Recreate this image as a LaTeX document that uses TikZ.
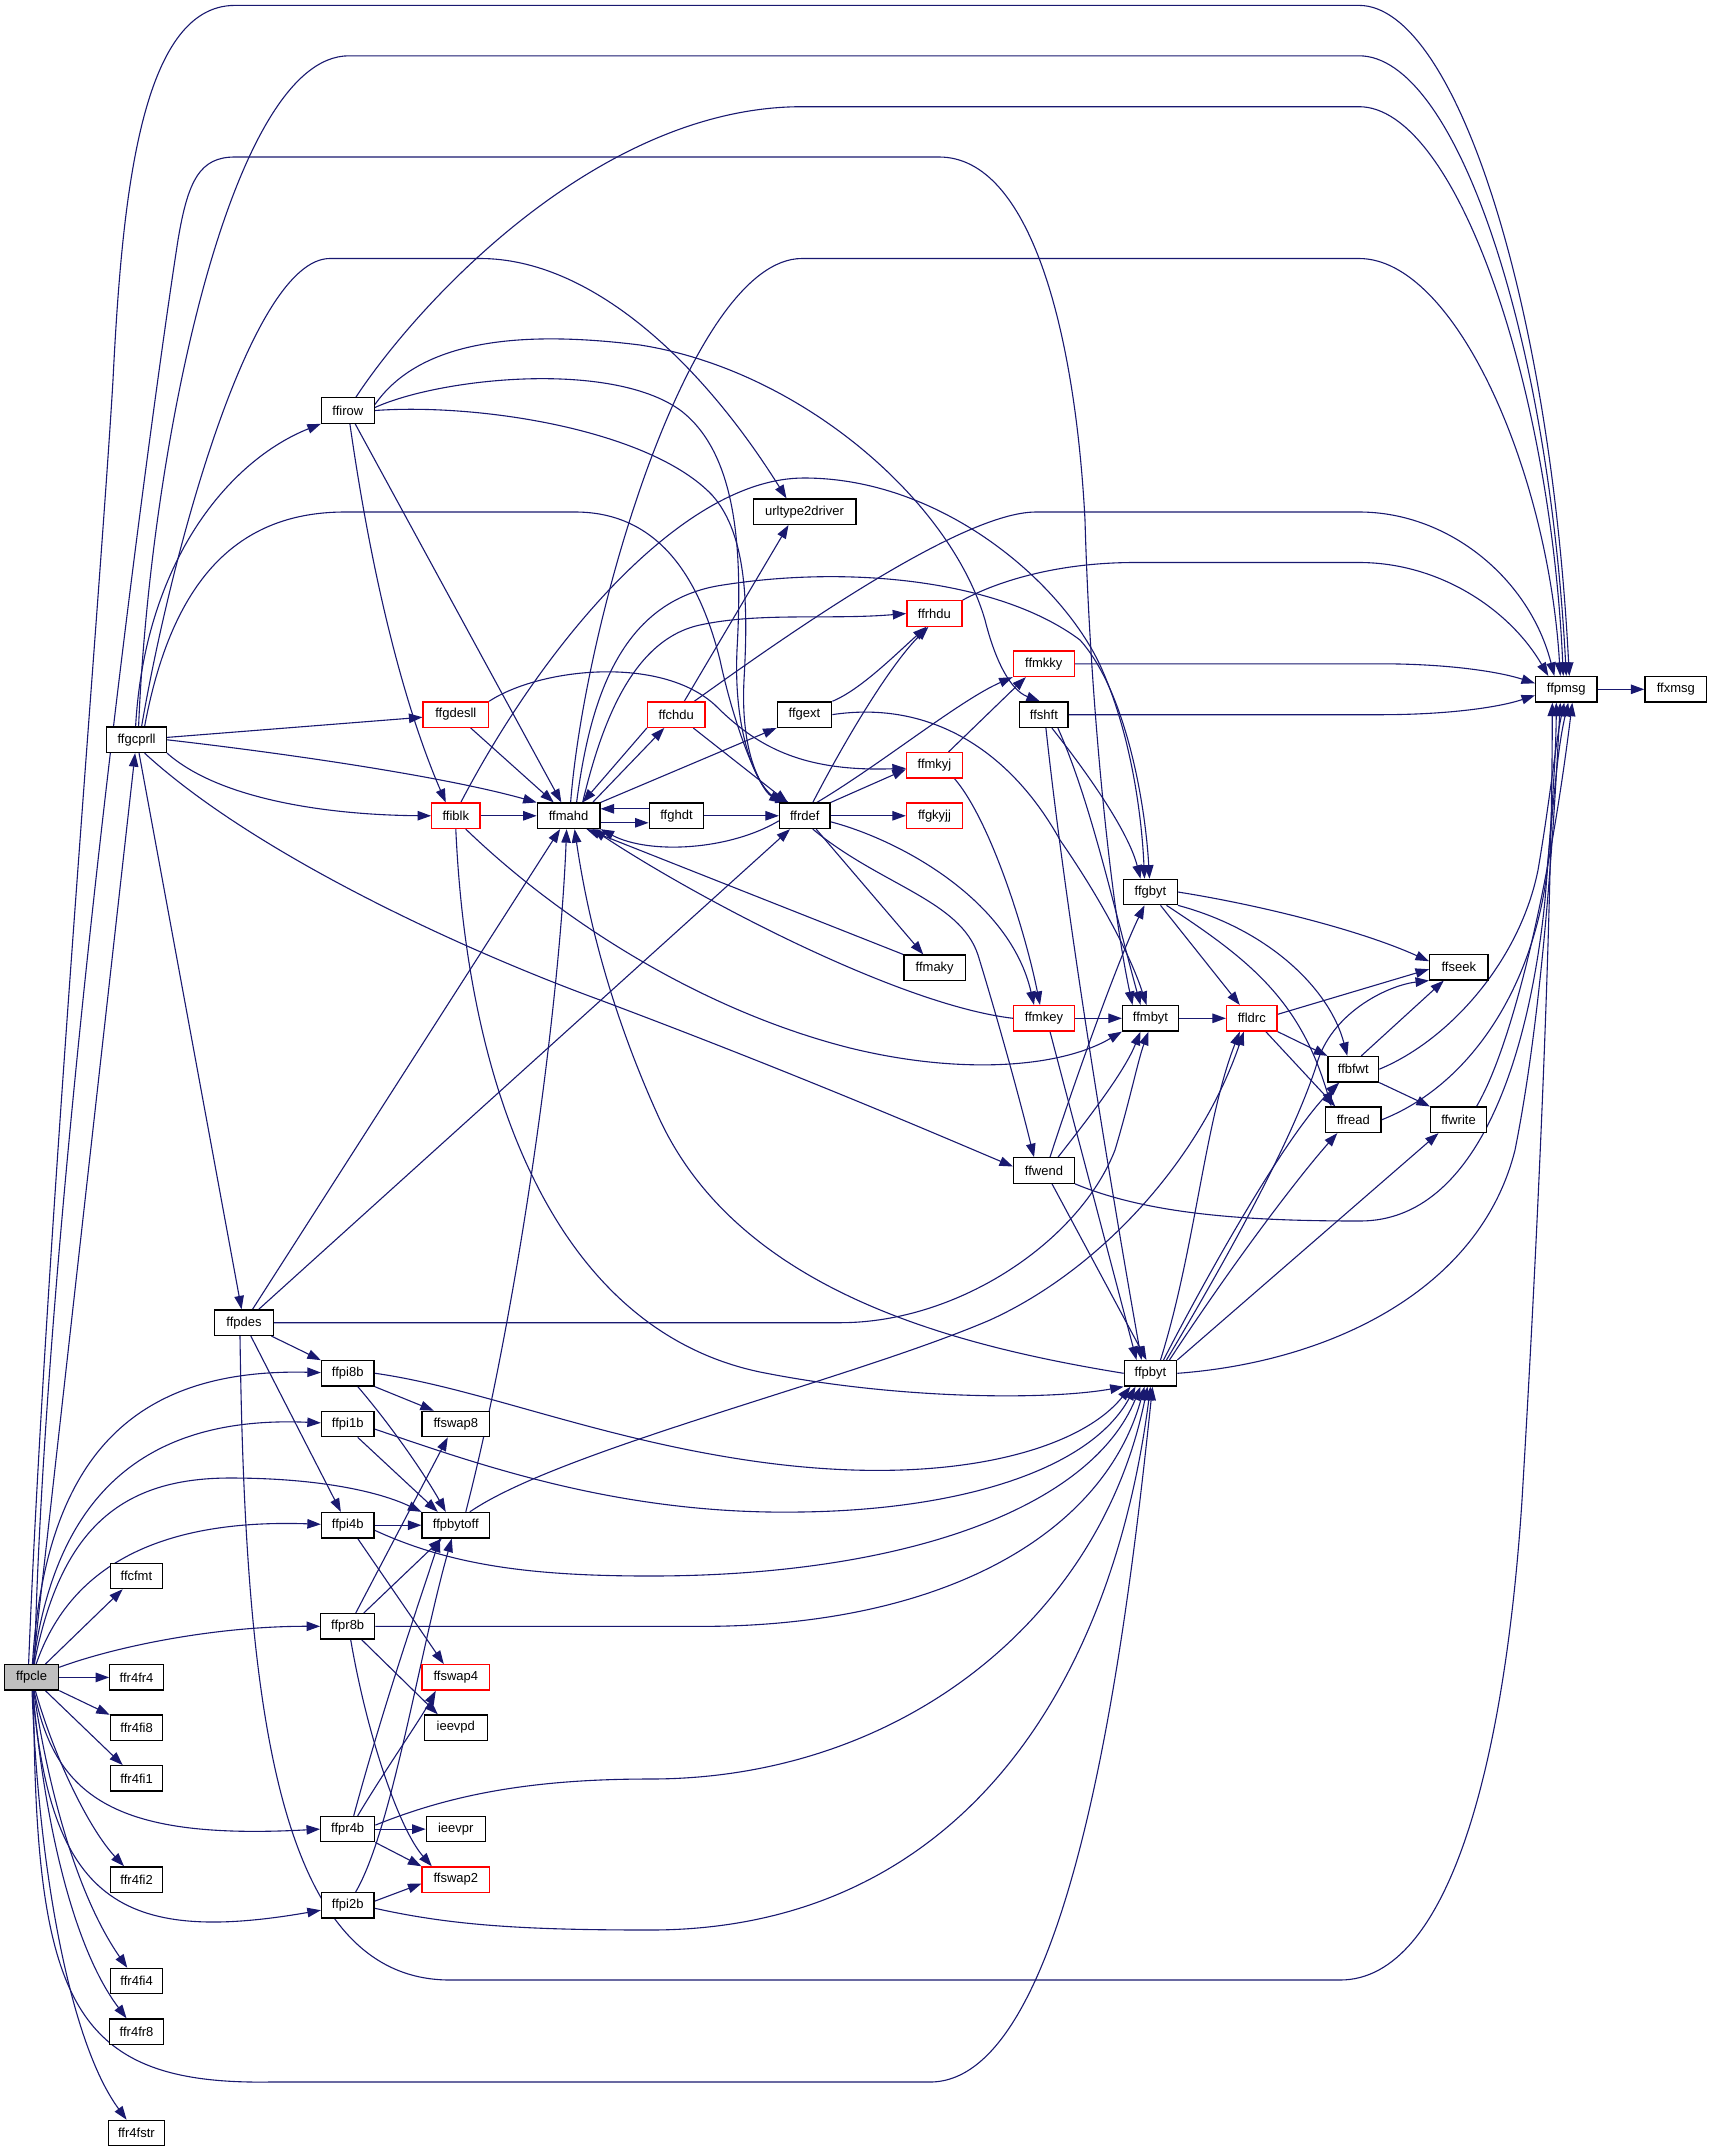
\documentclass[tikz,border=0pt]{standalone}
\usepackage{fontspec}
\setmainfont{Liberation Sans}[Ligatures=NoCommon]
\usetikzlibrary{arrows.meta}
\pgfdeclarelayer{backdrop}
\pgfdeclarelayer{bg}
\pgfsetlayers{backdrop,bg,main}
\definecolor{edgeblue}{RGB}{25,25,112}
\definecolor{nodegray}{RGB}{191,191,191}
\begin{document}
\begin{tikzpicture}[x=1pt,y=-1pt,
  fn/.style={draw=black, line width=1.3pt, fill=white, minimum height=25.4pt, inner sep=0pt, font=\fontsize{13}{15}\selectfont},
  rfn/.style={fn, draw=red},
  cur/.style={fn, fill=nodegray},
  e/.style={draw=edgeblue, line width=1.1pt, -{Triangle[length=13.5pt,width=9.5pt]}}]
\begin{pgfonlayer}{backdrop}
\fill[white] (0,0) rectangle (1712,2152);
\end{pgfonlayer}
\path[use as bounding box] (0,0) rectangle (1712,2152);
% nodes
\node[cur, minimum width=54pt] (ffpcle) at (31.6,1677.4) {ffpcle};
\node[fn, minimum width=52.4pt] (ffcfmt) at (136.4,1575.9) {ffcfmt};
\node[fn, minimum width=53.6pt] (ffr4fr4) at (136.6,1677.4) {ffr4fr4};
\node[fn, minimum width=52.4pt] (ffr4fi8) at (136.6,1727.6) {ffr4fi8};
\node[fn, minimum width=52.4pt] (ffr4fi1) at (136.6,1778.4) {ffr4fi1};
\node[fn, minimum width=52.4pt] (ffr4fi2) at (136.6,1879.6) {ffr4fi2};
\node[fn, minimum width=52.4pt] (ffr4fi4) at (136.6,1981.1) {ffr4fi4};
\node[fn, minimum width=53.6pt] (ffr4fr8) at (136.6,2031.6) {ffr4fr8};
\node[fn, minimum width=56.3pt] (ffr4fstr) at (136.4,2133) {ffr4fstr};
\node[fn, minimum width=59.7pt] (ffgcprll) at (136.6,739.8) {ffgcprll};
\node[fn, minimum width=58.5pt] (ffpdes) at (244,1322.7) {ffpdes};
\node[fn, minimum width=52.8pt] (ffirow) at (347.9,410.5) {ffirow};
\node[fn, minimum width=52.4pt] (ffpi8b) at (347.7,1373.2) {ffpi8b};
\node[fn, minimum width=52.4pt] (ffpi1b) at (347.7,1424) {ffpi1b};
\node[fn, minimum width=52.4pt] (ffpi4b) at (347.7,1525.2) {ffpi4b};
\node[fn, minimum width=54pt] (ffpr8b) at (347.7,1626.4) {ffpr8b};
\node[fn, minimum width=54pt] (ffpr4b) at (347.7,1829.1) {ffpr4b};
\node[fn, minimum width=52.4pt] (ffpi2b) at (347.7,1905.2) {ffpi2b};
\node[rfn, minimum width=65.4pt] (ffgdesll) at (455.8,714.6) {ffgdesll};
\node[rfn, minimum width=48.2pt] (ffiblk) at (455.8,815.8) {ffiblk};
\node[fn, minimum width=67.4pt] (ffswap8) at (455.8,1424) {ffswap8};
\node[fn, minimum width=67.4pt] (ffpbytoff) at (455.8,1525.2) {ffpbytoff};
\node[rfn, minimum width=67.4pt] (ffswap4) at (455.8,1677.4) {ffswap4};
\node[fn, minimum width=62.8pt] (ieevpd) at (455.8,1727.6) {ieevpd};
\node[fn, minimum width=59pt] (ieevpr) at (455.8,1829.1) {ieevpr};
\node[rfn, minimum width=67.4pt] (ffswap2) at (455.8,1879.6) {ffswap2};
\node[fn, minimum width=62.6pt] (ffmahd) at (568.6,815.8) {ffmahd};
\node[rfn, minimum width=57.5pt] (ffchdu) at (676.3,714.6) {ffchdu};
\node[fn, minimum width=54.5pt] (ffghdt) at (676.5,815.8) {ffghdt};
\node[fn, minimum width=102.7pt] (urltype2driver) at (804.5,511.7) {urltype2driver};
\node[fn, minimum width=54.5pt] (ffgext) at (804.5,714.6) {ffgext};
\node[fn, minimum width=50.5pt] (ffrdef) at (804.8,815.8) {ffrdef};
\node[rfn, minimum width=55pt] (ffrhdu) at (934.4,613.5) {ffrhdu};
\node[rfn, minimum width=56pt] (ffmkyj) at (934.5,765.3) {ffmkyj};
\node[rfn, minimum width=56pt] (ffgkyjj) at (934.5,815.8) {ffgkyjj};
\node[fn, minimum width=61.6pt] (ffmaky) at (934.7,967.8) {ffmaky};
\node[rfn, minimum width=61pt] (ffmkky) at (1043.8,663.8) {ffmkky};
\node[fn, minimum width=48.2pt] (ffshft) at (1043.9,714.7) {ffshft};
\node[rfn, minimum width=60.7pt] (ffmkey) at (1044,1018.3) {ffmkey};
\node[fn, minimum width=60.7pt] (ffwend) at (1044,1170.5) {ffwend};
\node[fn, minimum width=53.6pt] (ffgbyt) at (1150.5,892) {ffgbyt};
\node[fn, minimum width=55.9pt] (ffmbyt) at (1150.5,1018.3) {ffmbyt};
\node[fn, minimum width=52.4pt] (ffpbyt) at (1150.5,1373.3) {ffpbyt};
\node[rfn, minimum width=50.5pt] (ffldrc) at (1251.8,1018.3) {ffldrc};
\node[fn, minimum width=50.6pt] (ffbfwt) at (1353.3,1069.2) {ffbfwt};
\node[fn, minimum width=55.4pt] (ffread) at (1353.3,1119.8) {ffread};
\node[fn, minimum width=58.3pt] (ffseek) at (1458.8,967.2) {ffseek};
\node[fn, minimum width=55.8pt] (ffwrite) at (1458.5,1119.8) {ffwrite};
\node[fn, minimum width=61.3pt] (ffpmsg) at (1566.3,689.3) {ffpmsg};
\node[fn, minimum width=61.7pt] (ffxmsg) at (1675.8,689.3) {ffxmsg};
\begin{pgfonlayer}{bg}
% ---- ffpcle
\draw[e] (ffpcle) -- (ffgcprll);
\draw[e] (ffpcle) -- (ffcfmt);
\draw[e] (ffpcle) -- (ffr4fr4);
\draw[e] (ffpcle) -- (ffr4fi8);
\draw[e] (ffpcle) -- (ffr4fi1);
\draw[e] (ffpcle) .. controls (55,1760) and (90,1830) .. (ffr4fi2);
\draw[e] (ffpcle) .. controls (50,1800) and (80,1900) .. (ffr4fi4);
\draw[e] (ffpcle) .. controls (45,1830) and (75,1950) .. (ffr4fr8);
\draw[e] (ffpcle) .. controls (38,1860) and (68,2040) .. (ffr4fstr);
\draw[e] (ffpcle) .. controls (45,1460) and (130,1368) .. (ffpi8b);
\draw[e] (ffpcle) .. controls (55,1500) and (140,1415) .. (ffpi1b);
\draw[e] (ffpcle) .. controls (60,1530) and (120,1478) .. (230,1478) .. controls (320,1478) and (380,1492) .. (ffpbytoff.north west);
\draw[e] (ffpcle) .. controls (65,1580) and (140,1518) .. (ffpi4b);
\draw[e] (ffpcle) .. controls (120,1645) and (220,1626) .. (ffpr8b);
\draw[e] (ffpcle) .. controls (55,1800) and (120,1840) .. (ffpr4b.west);
\draw[e] (ffpcle) .. controls (50,1900) and (120,1945) .. ([yshift=-5pt]ffpi2b.west);
\draw[e] ([xshift=2pt]ffpcle.south) .. controls (35,2000) and (70,2085) .. (270,2082) -- (930,2082) .. controls (1070,2082) and (1125,1650) .. ([xshift=2pt]ffpbyt.south);
\draw[e] ([xshift=-3pt]ffpcle.north) .. controls (45,1250) and (100,600) .. (113,380) .. controls (122,200) and (140,5.4) .. (235,5.4) -- (1359,5.4) .. controls (1455,5.4) and (1550,300) .. ([xshift=3pt]ffpmsg.north);
\draw[e] ([xshift=3pt]ffpcle.north) .. controls (45,1200) and (150,420) .. (178,240) .. controls (188,180) and (200,157) .. (235,157) -- (939,157) .. controls (1030,157) and (1075,330) .. (1085,520) .. controls (1090,700) and (1110,900) .. ([xshift=-18pt]ffmbyt.north);
% ---- ffgcprll
\draw[e] ([xshift=2pt]ffgcprll.north) .. controls (150,450) and (230,55.8) .. (349,55.8) -- (1359,55.8) .. controls (1455,55.8) and (1548,330) .. (ffpmsg.north);
\draw[e] ([xshift=5pt]ffgcprll.north) .. controls (170,560) and (250,258.5) .. (330,258.5) -- (480,258.5) .. controls (590,258.5) and (700,360) .. ([xshift=-18pt]urltype2driver.north);
\draw[e] ([xshift=-1pt]ffgcprll.north) .. controls (145,560) and (230,460) .. (ffirow.south west);
\draw[e] ([xshift=8pt]ffgcprll.north) .. controls (170,590) and (230,512) .. (345,512) -- (575,512) .. controls (660,512) and (700,580) .. (720,660) .. controls (735,730) and (760,790) .. ([xshift=4pt]ffrdef.north west);
\draw[e] (ffgcprll) -- (ffgdesll);
\draw[e] (ffgcprll.east) .. controls (300,755) and (450,778) .. (ffmahd.north west);
\draw[e] (ffgcprll.south east) .. controls (220,800) and (330,815) .. (ffiblk.west);
\draw[e] ([xshift=8pt]ffgcprll.south) .. controls (250,850) and (450,945) .. (600,1000) .. controls (800,1075) and (950,1140) .. ([yshift=4pt]ffwend.west);
\draw[e] (ffgcprll) -- (ffpdes);
% ---- ffpdes
\draw[e] (ffpdes) -- (ffpi8b);
\draw[e] (ffpdes) -- (ffpi4b);
\draw[e] (ffpdes) -- (ffmahd);
\draw[e] (ffpdes) -- (ffrdef);
\draw[e] (ffpdes.east) -- (840,1322.7) .. controls (960,1322.7) and (1080,1240) .. (1115,1150) .. controls (1130,1100) and (1138,1060) .. ([xshift=-2pt]ffmbyt.south);
\draw[e] ([xshift=-4pt]ffpdes.south) .. controls (245,1700) and (275,1980) .. (450,1980) -- (1340,1980) .. controls (1450,1980) and (1505,1760) .. (1522,1500) .. controls (1540,1200) and (1552,900) .. ([xshift=-14pt]ffpmsg.south);
% ---- ffirow
\draw[e] ([xshift=8pt]ffirow.north) .. controls (420,300) and (600,106.7) .. (802,106.7) -- (1359,106.7) .. controls (1455,106.7) and (1550,380) .. ([xshift=-3pt]ffpmsg.north);
\draw[e] ([yshift=6pt]ffirow.east) .. controls (420,340) and (520,330) .. (640,345) .. controls (800,370) and (950,500) .. (985,620) .. controls (995,660) and (1010,690) .. ([xshift=-4pt]ffshft.north);
\draw[e] ([yshift=3pt]ffirow.east) .. controls (440,378) and (610,360) .. (680,410) .. controls (740,455) and (742,560) .. (737,650) .. controls (733,740) and (760,790) .. ([xshift=7pt]ffrdef.north west);
\draw[e] (ffirow.east) .. controls (480,403) and (650,430) .. (712,495) .. controls (748,535) and (748,610) .. (744,680) .. controls (740,760) and (765,795) .. ([xshift=10pt]ffrdef.north west);
\draw[e] (ffirow) -- (ffmahd);
\draw[e] ([xshift=2pt]ffirow.south) .. controls (375,600) and (410,720) .. ([xshift=-10pt]ffiblk.north);
% ---- ffgdesll
\draw[e] (ffgdesll) -- (ffmahd);
\draw[e] (ffgdesll.north east) .. controls (540,668) and (660,655) .. (715,705) .. controls (755,745) and (800,772) .. ([yshift=-3pt]ffmkyj.west);
% ---- ffiblk
\draw[e] (ffiblk) -- (ffmahd);
\draw[e] ([xshift=5pt]ffiblk.north) .. controls (540,650) and (680,478) .. (804,478) .. controls (940,478) and (1060,580) .. (1100,665) .. controls (1132,735) and (1142,820) .. ([xshift=-6pt]ffgbyt.north);
\draw[e] ([xshift=10pt]ffiblk.south) .. controls (560,920) and (700,1010) .. (850,1048) .. controls (960,1075) and (1060,1068) .. (ffmbyt.south west);
\draw[e] (ffiblk.south) .. controls (468,1100) and (560,1330) .. (760,1372) .. controls (900,1400) and (1050,1400) .. (ffpbyt.south west);
% ---- ffmahd
\draw[e] ([yshift=-7pt]ffmahd.east) -- ([yshift=-7pt]ffghdt.west);
\draw[e] ([yshift=7pt]ffghdt.west) -- ([yshift=7pt]ffmahd.east);
\draw[e] ([xshift=24pt]ffmahd.north) -- ([xshift=-12pt]ffchdu.south);
\draw[e] (ffchdu.south west) -- ([xshift=14pt]ffmahd.north);
\draw[e] (ffmahd.north east) -- (ffgext.south west);
\draw[e] ([xshift=14pt]ffmahd.north) .. controls (600,730) and (630,640) .. (700,625) .. controls (760,612) and (830,620) .. (ffrhdu.west);
\draw[e] ([xshift=8pt]ffmahd.north) .. controls (590,700) and (620,600) .. (723,585) .. controls (850,565) and (1000,580) .. (1080,640) .. controls (1125,690) and (1145,800) .. ([xshift=-1pt]ffgbyt.north);
\draw[e] ([xshift=2pt]ffmahd.north) .. controls (585,620) and (690,258.5) .. (802,258.5) -- (1359,258.5) .. controls (1455,258.5) and (1548,470) .. ([xshift=-6pt]ffpmsg.north);
% ---- ffghdt, ffchdu, ffgext
\draw[e] (ffghdt) -- (ffrdef);
\draw[e] ([xshift=8pt]ffchdu.north) -- ([xshift=-16pt]urltype2driver.south);
\draw[e] ([xshift=18pt]ffchdu.north) .. controls (780,640) and (960,512) .. (1036,512) -- (1359,512) .. controls (1450,512) and (1530,580) .. ([xshift=-12pt]ffpmsg.north);
\draw[e] (ffchdu) -- (ffrdef);
\draw[e] (ffgext.north east) .. controls (860,690) and (895,655) .. ([xshift=-8pt]ffrhdu.south);
\draw[e] (ffgext.east) .. controls (930,700) and (1010,750) .. (1060,840) .. controls (1105,905) and (1132,960) .. ([xshift=-4pt]ffmbyt.north);
% ---- ffrdef
\draw[e] ([yshift=-5pt]ffrdef.west) .. controls (730,850) and (650,855) .. (ffmahd.south east);
\draw[e] ([xshift=8pt]ffrdef.north) .. controls (845,740) and (890,665) .. ([xshift=-6pt]ffrhdu.south);
\draw[e] ([xshift=12pt]ffrdef.north) .. controls (880,765) and (960,700) .. (ffmkky.south west);
\draw[e] (ffrdef.north east) -- ([yshift=-4pt]ffmkyj.west);
\draw[e] (ffrdef) -- (ffgkyjj);
\draw[e] (ffrdef) -- (ffmaky);
\draw[e] ([yshift=-6pt]ffrdef.east) .. controls (900,840) and (1010,900) .. ([xshift=-10pt]ffmkey.north);
\draw[e] ([xshift=8pt]ffrdef.south) .. controls (880,885) and (960,900) .. (978,955) .. controls (998,1020) and (1020,1100) .. ([xshift=-10pt]ffwend.north);
% ---- ffrhdu, ffmkyj, ffmkky, ffshft
\draw[e] (ffrhdu.north east) .. controls (1000,580) and (1060,562.5) .. (1135,562.5) -- (1359,562.5) .. controls (1440,562.5) and (1510,610) .. ([xshift=-18pt]ffpmsg.north);
\draw[e] ([xshift=14pt]ffmkyj.north) -- ([xshift=-18pt]ffmkky.south);
\draw[e] ([xshift=20pt]ffmkyj.south) .. controls (990,820) and (1025,930) .. ([xshift=-4pt]ffmkey.north);
\draw[e] (ffmkky.east) -- (1380,663.8) .. controls (1450,663.8) and (1500,672) .. ([yshift=6pt]ffpmsg.west);
\draw[e] (ffshft.east) -- (1380,714.7) .. controls (1450,714.7) and (1500,707) .. ([yshift=-6pt]ffpmsg.west);
\draw[e] ([xshift=8pt]ffshft.south) .. controls (1085,770) and (1128,830) .. ([xshift=-10pt]ffgbyt.north);
\draw[e] ([xshift=14pt]ffshft.south) .. controls (1090,800) and (1112,900) .. ([xshift=-10pt]ffmbyt.north);
\draw[e] ([xshift=2pt]ffshft.south) .. controls (1070,950) and (1122,1250) .. ([xshift=-9pt]ffpbyt.north);
% ---- ffwend
\draw[e] ([xshift=6pt]ffwend.north) .. controls (1075,1080) and (1118,960) .. ([xshift=-6pt]ffgbyt.south);
\draw[e] ([xshift=14pt]ffwend.north) .. controls (1095,1110) and (1125,1070) .. ([xshift=-10pt]ffmbyt.south);
\draw[e] ([xshift=8pt]ffwend.south) -- ([xshift=-4pt]ffpbyt.north);
\draw[e] (ffwend.south east) .. controls (1150,1215) and (1250,1221) .. (1360,1221) .. controls (1480,1221) and (1530,1050) .. (1545,900) .. controls (1553,800) and (1556,750) .. ([xshift=-10pt]ffpmsg.south);
% ---- ffmkey, ffmaky
\draw[e] (ffmkey) -- (ffmbyt);
\draw[e] ([xshift=6pt]ffmkey.south) -- ([xshift=-14pt]ffpbyt.north);
\draw[e] (ffmkey.west) .. controls (900,1005) and (700,900) .. ([xshift=-8pt]ffmahd.south east);
\draw[e] (ffmaky.north west) -- ([xshift=-14pt]ffmahd.south east);
% ---- ffpbyt
\draw[e] (ffpbyt.west) .. controls (950,1345) and (740,1290) .. (660,1120) .. controls (605,1000) and (585,900) .. ([xshift=6pt]ffmahd.south);
\draw[e] ([xshift=10pt]ffpbyt.north) .. controls (1195,1250) and (1205,1120) .. ([xshift=-12pt]ffldrc.south);
\draw[e] ([xshift=13pt]ffpbyt.north) .. controls (1215,1260) and (1290,1130) .. ([xshift=-14pt]ffbfwt.south);
\draw[e] ([xshift=16pt]ffpbyt.north) .. controls (1250,1220) and (1300,1120) .. (1318,1060) .. controls (1335,1010) and (1390,985) .. (ffseek.south west);
\draw[e] ([xshift=19pt]ffpbyt.north) .. controls (1235,1260) and (1300,1175) .. ([xshift=-16pt]ffread.south);
\draw[e] (ffpbyt.north east) -- ([xshift=-20pt]ffwrite.south);
\draw[e] (ffpbyt.east) .. controls (1330,1362) and (1480,1290) .. (1515,1150) .. controls (1545,1000) and (1555,800) .. ([xshift=-6pt]ffpmsg.south);
% ---- ffmbyt, ffgbyt, ffldrc
\draw[e] (ffmbyt) -- (ffldrc);
\draw[e] (ffgbyt.east) .. controls (1260,905) and (1360,930) .. ([yshift=6pt]ffseek.west);
\draw[e] ([xshift=10pt]ffgbyt.south) -- ([xshift=-12pt]ffldrc.north);
\draw[e] (ffgbyt.south east) .. controls (1270,930) and (1330,990) .. ([xshift=-6pt]ffbfwt.north);
\draw[e] ([xshift=16pt]ffgbyt.south) .. controls (1250,960) and (1300,1000) .. ([xshift=-22pt]ffread.north);
\draw[e] ([yshift=4pt]ffldrc.east) -- ([yshift=-2pt]ffseek.west);
\draw[e] (ffldrc.south east) -- (ffbfwt.north west);
\draw[e] ([xshift=14pt]ffldrc.south) -- ([xshift=-18pt]ffread.north);
% ---- ffbfwt, ffread, ffwrite, ffpmsg
\draw[e] ([xshift=8pt]ffbfwt.north) -- ([xshift=-15pt]ffseek.south);
\draw[e] (ffbfwt.south east) -- (ffwrite.north west);
\draw[e] (ffbfwt.east) .. controls (1450,1040) and (1520,960) .. (1538,870) .. controls (1550,800) and (1556,740) .. ([xshift=-2pt]ffpmsg.south);
\draw[e] (ffread.east) .. controls (1470,1085) and (1530,990) .. (1546,880) .. controls (1554,800) and (1557,750) .. ([xshift=2pt]ffpmsg.south);
\draw[e] ([xshift=18pt]ffwrite.north) .. controls (1510,1050) and (1548,900) .. ([xshift=6pt]ffpmsg.south);
\draw[e] (ffpmsg) -- (ffxmsg);
% ---- ffpi8b, ffpi1b, ffpi4b
\draw[e] (ffpi8b.south east) -- ([xshift=-22pt]ffswap8.north);
\draw[e] ([xshift=10pt]ffpi8b.south) .. controls (395,1430) and (428,1480) .. ([xshift=-10pt]ffpbytoff.north);
\draw[e] (ffpi8b.east) .. controls (480,1388) and (600,1440) .. (760,1462) .. controls (950,1488) and (1080,1450) .. ([xshift=-20pt]ffpbyt.south);
\draw[e] ([xshift=10pt]ffpi1b.south) -- ([xshift=-18pt]ffpbytoff.north);
\draw[e] ([yshift=-5pt]ffpi1b.east) .. controls (480,1465) and (620,1515) .. (800,1512) .. controls (960,1510) and (1090,1470) .. ([xshift=-15pt]ffpbyt.south);
\draw[e] (ffpi4b) -- (ffpbytoff);
\draw[e] ([xshift=10pt]ffpi4b.south) -- ([xshift=-12pt]ffswap4.north);
\draw[e] ([yshift=-5pt]ffpi4b.east) .. controls (450,1565) and (530,1576) .. (650,1576) .. controls (900,1576) and (1090,1510) .. ([xshift=-10pt]ffpbyt.south);
% ---- ffpr8b
\draw[e] ([xshift=8pt]ffpr8b.north) -- ([xshift=-8pt]ffswap8.south);
\draw[e] ([xshift=16pt]ffpr8b.north) -- ([xshift=-14pt]ffpbytoff.south);
\draw[e] ([xshift=14pt]ffpr8b.south) -- ([xshift=-18pt]ieevpd.north);
\draw[e] ([xshift=3pt]ffpr8b.south) .. controls (368,1740) and (400,1830) .. ([xshift=-24pt]ffswap2.north);
\draw[e] (ffpr8b.east) -- (700,1626.4) .. controls (950,1626.4) and (1105,1530) .. ([xshift=-6pt]ffpbyt.south);
% ---- ffpr4b
\draw[e] ([xshift=6pt]ffpr4b.north) .. controls (385,1700) and (420,1600) .. ([xshift=-16pt]ffpbytoff.south);
\draw[e] ([xshift=10pt]ffpr4b.north) .. controls (385,1770) and (420,1720) .. ([xshift=-20pt]ffswap4.south);
\draw[e] (ffpr4b) -- (ieevpr);
\draw[e] (ffpr4b.south east) -- (ffswap2.north west);
\draw[e] ([yshift=4pt]ffpr4b.east) .. controls (450,1795) and (530,1779) .. (650,1779) .. controls (900,1779) and (1100,1620) .. ([xshift=-3pt]ffpbyt.south);
% ---- ffpi2b
\draw[e] ([yshift=4pt]ffpi2b.east) -- ([yshift=-4pt]ffswap2.west);
\draw[e] ([xshift=8pt]ffpi2b.north) .. controls (392,1830) and (420,1650) .. ([xshift=-4pt]ffpbytoff.south);
\draw[e] ([yshift=-3pt]ffpi2b.east) .. controls (450,1925) and (520,1930) .. (650,1930) .. controls (950,1930) and (1110,1700) .. (ffpbyt.south);
% ---- ffpbytoff
\draw[e] ([xshift=10pt]ffpbytoff.north) .. controls (520,1300) and (560,1000) .. ([xshift=-2pt]ffmahd.south);
\draw[e] ([xshift=14pt]ffpbytoff.north) .. controls (560,1450) and (850,1380) .. (990,1320) .. controls (1100,1270) and (1200,1160) .. ([xshift=-8pt]ffldrc.south);
\end{pgfonlayer}
\end{tikzpicture}
\end{document}
